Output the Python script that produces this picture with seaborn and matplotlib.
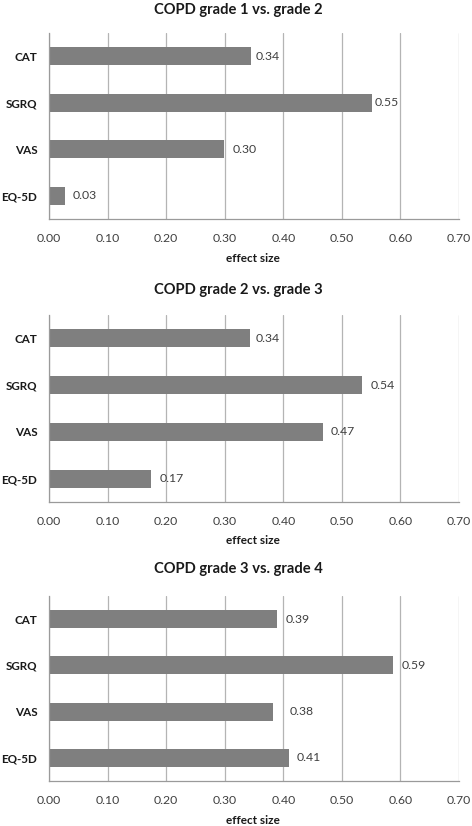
import matplotlib
matplotlib.use("Agg")
import matplotlib.pyplot as plt
import seaborn as sns
import pandas as pd
import numpy as np

measures = ["CAT", "SGRQ", "VAS", "EQ-5D"]
titles = ["COPD grade 1 vs. grade 2", "COPD grade 2 vs. grade 3", "COPD grade 3 vs. grade 4"]
g1_vs_g2 = [0.345, 0.551, 0.299, 0.028]
g2_vs_g3 = [0.343, 0.534, 0.467, 0.174]
g3_vs_g4 = [0.390, 0.587, 0.382, 0.409]
labels_1 = ["0.34", "0.55", "0.30", "0.03"]
labels_2 = ["0.34", "0.54", "0.47", "0.17"]
labels_3 = ["0.39", "0.59", "0.38", "0.41"]
xticks = [0.0, 0.1, 0.2, 0.3, 0.4, 0.5, 0.6, 0.7]
xlabel = "effect size"

series = [g1_vs_g2, g2_vs_g3, g3_vs_g4]
labels = [labels_1, labels_2, labels_3]
# label paddings (points) to mimic placement
pads = [[3, 2, 6, 5.5], [4, 6.5, 6, 6], [6, 6.5, 12, 6]]

sns.set_theme(style="white")
plt.rcParams['font.family'] = ['Lato', 'DejaVu Sans']

W, H = 472, 826
fig = plt.figure(figsize=(W / 100, H / 100), dpi=100)
# (top, bottom) in pixels for each axes
boxes = [(33, 219), (315, 502), (596, 781)]
left_px, right_px = 49, 459
title_y = [10, 290, 569]
xlabel_y = [259, 541, 820]
title_x = 238

bar_color = "#7f7f7f"
grid_color = "#b4b4b4"
spine_color = "#9a9a9a"
text_color = "#404040"

for i in range(3):
    top, bot = boxes[i]
    ax = fig.add_axes([left_px / W, 1 - bot / H, (right_px - left_px) / W, (bot - top) / H])
    df = pd.DataFrame({"measure": measures, "value": series[i]})
    sns.barplot(data=df, x="value", y="measure", orient="h", color=bar_color,
                saturation=1, width=0.39, ax=ax, edgecolor="none")
    ax.set_xlim(0, 0.7)
    ax.set_ylim(3.5, -0.5)
    ax.set_xticks(xticks)
    ax.set_xticklabels([f"{t:.2f}" for t in xticks], fontsize=8.8, color=text_color)
    ax.xaxis.grid(True, color=grid_color, linewidth=0.9)
    ax.yaxis.grid(False)
    ax.set_axisbelow(True)
    ax.tick_params(axis="x", length=0, pad=10)
    ax.set_yticks(range(len(measures)))
    ax.set_yticklabels(measures, fontsize=8.4, fontweight="bold", color="#1a1a1a")
    ax.set_yticks(np.arange(-0.5, 4, 1), minor=True)
    ax.tick_params(axis="y", which="major", length=0, pad=8.5)
    ax.tick_params(axis="y", which="minor", length=4, width=0.9, color=spine_color)
    for s in ["top", "right"]:
        ax.spines[s].set_visible(False)
    for s in ["left", "bottom"]:
        ax.spines[s].set_color(spine_color)
        ax.spines[s].set_linewidth(0.9)
    ax.set_xlabel("")
    ax.set_ylabel("")
    cont = ax.containers[0]
    for rect, lab, p in zip(cont, labels[i], pads[i]):
        ax.annotate(lab, xy=(rect.get_width(), rect.get_y() + rect.get_height() / 2),
                    xytext=(p, 0), textcoords="offset points", va="center", ha="left",
                    fontsize=8.8, color=text_color)
    fig.text(title_x / W, 1 - title_y[i] / H, titles[i],
             ha="center", va="center", fontsize=10.6, fontweight="bold", color="#1a1a1a")
    fig.text(253 / W, 1 - xlabel_y[i] / H, xlabel,
             ha="center", va="center", fontsize=8.5, fontweight="bold", color="#1a1a1a")

fig.savefig("out.png", dpi=100, facecolor="white")
